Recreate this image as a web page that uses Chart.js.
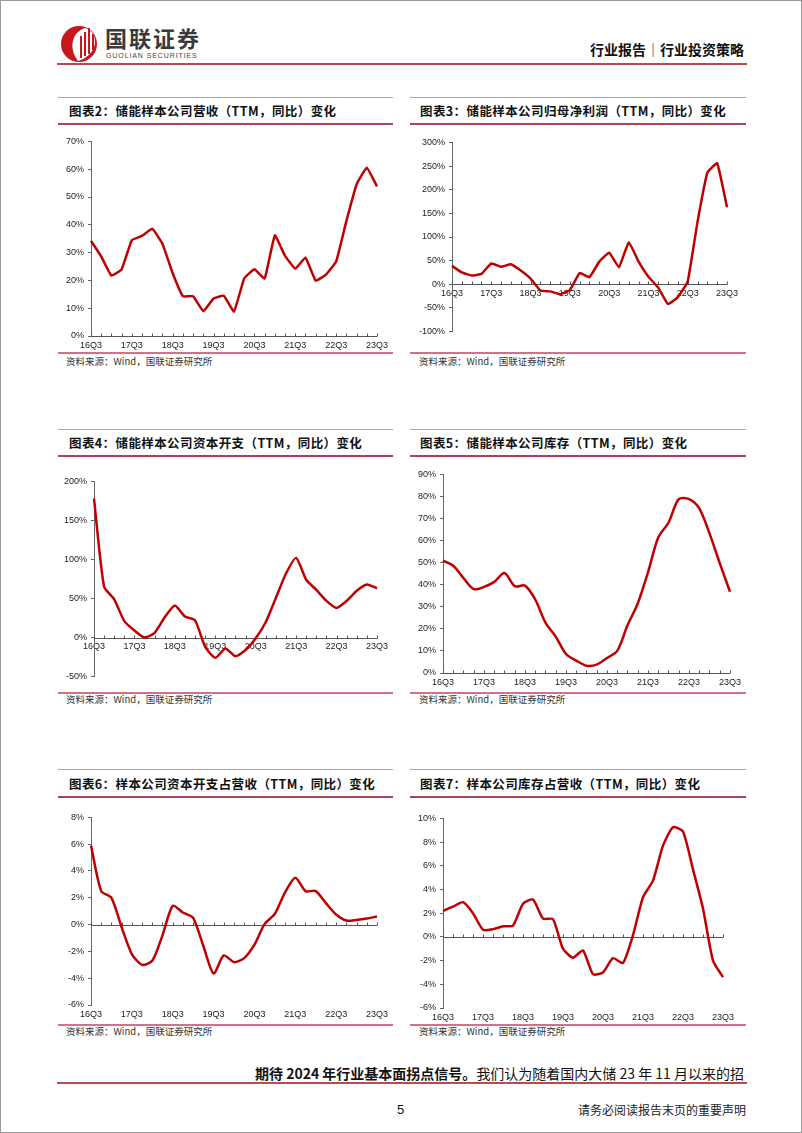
<!DOCTYPE html>
<html>
<head>
<meta charset="utf-8">
<script src="https://cdn.jsdelivr.net/npm/chart.js@4"></script>
<style>
    body { margin: 0; background: #fff; font-family: "Noto Sans CJK SC", sans-serif; }
    #page { position: relative; width: 802px; height: 1133px; box-sizing: border-box; border: 1px solid #9a9a9a; overflow: hidden; background: #fff; }
    .t { position: absolute; white-space: nowrap; color: #111; }
    .ln { position: absolute; }
    canvas { position: absolute; }
    .title { font-size: 12.5px; font-weight: 700; line-height: 18px; height: 18px; letter-spacing: 0.4px; }
    .src { font-size: 9.5px; line-height: 14px; color: #333; }
</style>
</head>
<body>
<div id="page">
    <!-- шапка -->
    <svg class="t" style="left:57px;top:21px" width="42" height="42" viewBox="0 0 42 42">
        <circle cx="21" cy="22" r="18" fill="#c8161d"/>
        <path d="M27 6 C14 10 10 26 20 39 C30 36 37 28 37 20 C37 12 33 8 27 6Z" fill="#fff"/>
        <rect x="22" y="14" width="2" height="22" fill="#c8161d"/>
        <rect x="26" y="10" width="2" height="24" fill="#c8161d"/>
        <rect x="30" y="6" width="2" height="26" fill="#c8161d"/>
        <rect x="34" y="12" width="2" height="16" fill="#c8161d"/>
    </svg>
    <div class="t" style="left:104px;top:23px;font-size:22px;font-weight:700;color:#3a3a3a;letter-spacing:2px;line-height:26px">国联证券</div>
    <div class="t" style="left:105px;top:51px;font-family:'Liberation Sans';font-size:7px;color:#444;letter-spacing:0.9px;line-height:8px">GUOLIAN SECURITIES</div>
    <div class="t" style="right:57px;top:38px;font-size:14px;font-weight:700;line-height:20px">行业报告│行业投资策略</div>
    <div class="ln" style="left:56px;top:62px;width:690px;height:2px;background:#b84a50"></div>

    <!-- ряд 1 -->
    <div class="ln" style="left:57px;top:96px;width:335px;height:1px;background:#c99aa4"></div>
    <div class="ln" style="left:409px;top:96px;width:336px;height:1px;background:#c99aa4"></div>
    <div class="t title" style="left:68px;top:101px">图表2：储能样本公司营收（TTM，同比）变化</div>
    <div class="t title" style="left:419px;top:101px">图表3：储能样本公司归母净利润（TTM，同比）变化</div>
    <div class="ln" style="left:57px;top:122px;width:335px;height:2px;background:#a94457"></div>
    <div class="ln" style="left:409px;top:122px;width:336px;height:2px;background:#a94457"></div>
    <div class="ln" style="left:57px;top:351px;width:335px;height:2px;background:#d4708a"></div>
    <div class="ln" style="left:409px;top:351px;width:336px;height:2px;background:#d4708a"></div>
    <div class="t src" style="left:65px;top:353px">资料来源：Wind，国联证券研究所</div>
    <div class="t src" style="left:418px;top:353px">资料来源：Wind，国联证券研究所</div>

    <!-- ряд 2 -->
    <div class="ln" style="left:57px;top:428px;width:335px;height:1px;background:#c99aa4"></div>
    <div class="ln" style="left:409px;top:428px;width:336px;height:1px;background:#c99aa4"></div>
    <div class="t title" style="left:68px;top:433px">图表4：储能样本公司资本开支（TTM，同比）变化</div>
    <div class="t title" style="left:419px;top:433px">图表5：储能样本公司库存（TTM，同比）变化</div>
    <div class="ln" style="left:57px;top:454px;width:335px;height:2px;background:#a94457"></div>
    <div class="ln" style="left:409px;top:454px;width:336px;height:2px;background:#a94457"></div>
    <div class="ln" style="left:57px;top:691px;width:335px;height:2px;background:#d4708a"></div>
    <div class="ln" style="left:409px;top:691px;width:336px;height:2px;background:#d4708a"></div>
    <div class="t src" style="left:65px;top:691px">资料来源：Wind，国联证券研究所</div>
    <div class="t src" style="left:418px;top:691px">资料来源：Wind，国联证券研究所</div>

    <!-- ряд 3 -->
    <div class="ln" style="left:57px;top:768px;width:335px;height:1px;background:#c99aa4"></div>
    <div class="ln" style="left:409px;top:768px;width:336px;height:1px;background:#c99aa4"></div>
    <div class="t title" style="left:68px;top:774px">图表6：样本公司资本开支占营收（TTM，同比）变化</div>
    <div class="t title" style="left:419px;top:774px">图表7：样本公司库存占营收（TTM，同比）变化</div>
    <div class="ln" style="left:57px;top:795px;width:335px;height:2px;background:#a94457"></div>
    <div class="ln" style="left:409px;top:795px;width:336px;height:2px;background:#a94457"></div>
    <div class="ln" style="left:57px;top:1023px;width:335px;height:2px;background:#d4708a"></div>
    <div class="ln" style="left:409px;top:1023px;width:336px;height:2px;background:#d4708a"></div>
    <div class="t src" style="left:65px;top:1023px">资料来源：Wind，国联证券研究所</div>
    <div class="t src" style="left:418px;top:1023px">资料来源：Wind，国联证券研究所</div>

    <!-- низ -->
    <div class="t" style="right:57px;top:1062px;font-size:14px;line-height:20px"><b>期待 2024 年行业基本面拐点信号。</b>我们认为随着国内大储 23 年 11 月以来的招</div>
    <div class="ln" style="left:56px;top:1081px;width:690px;height:2px;background:#b84a50"></div>
    <div class="t" style="left:396px;top:1101px;font-family:'Liberation Sans';font-size:13px;line-height:16px">5</div>
    <div class="t" style="right:55px;top:1101px;font-size:12px;line-height:16px;color:#222">请务必阅读报告末页的重要声明</div>
</div>

<script>
const quarters = ['16Q3', '16Q4', '17Q1', '17Q2', '17Q3', '17Q4', '18Q1', '18Q2', '18Q3', '18Q4',
    '19Q1', '19Q2', '19Q3', '19Q4', '20Q1', '20Q2', '20Q3', '20Q4', '21Q1', '21Q2', '21Q3',
    '21Q4', '22Q1', '22Q2', '22Q3', '22Q4', '23Q1', '23Q2', '23Q3'];

// 图表2 营收同比 %
const revenueYoy = [34.2, 28.6, 21.7, 24, 34.5, 36, 38.6, 33.1, 22.6, 14.3, 14.3, 8.9, 13.5, 14.5, 8.8,
    20.7, 24, 20.7, 36.2, 28.8, 24.2, 28.2, 19.9, 22.1, 26.8, 41.3, 54.5, 60.5, 53.8];
// 图表3 归母净利润同比 %
const netProfitYoy = [39, 25, 18.5, 22, 44, 37, 42.5, 29, 12, -13, -15, -21, -12, 24, 15,
    48, 67, 36, 89, 48, 16, -7, -42, -27, 6, 132, 236, 256, 163];
// 图表4 资本开支同比 %
const capexYoy = [178, 65, 49, 21, 9, 0, 6, 26, 41, 27, 22, -12, -26, -14, -24,
    -16, -1, 20, 51, 82, 102, 74, 61, 47, 38, 47, 60, 68, 63];
// 图表5 库存同比 %
const inventoryYoy = [50.9, 48.6, 43, 38, 39, 41.3, 45.3, 39.3, 39.6, 33.3, 22.8, 16.5, 8.6, 5.6, 3.3,
    3.8, 6.8, 10, 21.6, 31.5, 45.6, 61.4, 68.1, 78.8, 78.8, 74.6, 63.3, 49.8, 36.8];
// 图表6 资本开支占营收 %
const capexToRevenue = [5.9, 2.5, 2.0, -0.2, -2.2, -3.0, -2.7, -0.8, 1.4, 0.9, 0.5, -1.6, -3.65, -2.3, -2.8,
    -2.5, -1.5, 0.05, 0.8, 2.4, 3.5, 2.5, 2.5, 1.6, 0.75, 0.3, 0.35, 0.45, 0.6];
// 图表7 库存占营收 %
const inventoryToRevenue = [2.2, 2.55, 2.93, 2.0, 0.6, 0.65, 0.9, 0.95, 2.8, 3.15, 1.55, 1.5, -1.0, -1.75, -1.15,
    -3.15, -3.0, -1.8, -2.2, 0.15, 3.35, 4.75, 7.7, 9.25, 8.9, 5.7, 2.4, -2.0, -3.4];

const tickFont = { family: 'Liberation Sans', size: 9 };

// нульова вісь з рисками догори
const zeroAxis = {
    id: 'zeroAxis',
    beforeDatasetsDraw(chart) {
        const { ctx, chartArea, scales } = chart;
        const y0 = Math.round(scales.y.getPixelForValue(0)) + 0.5;
        ctx.save();
        ctx.strokeStyle = '#555';
        ctx.lineWidth = 1;
        ctx.beginPath();
        ctx.moveTo(chartArea.left, y0);
        ctx.lineTo(chartArea.right, y0);
        for (let i = 0; i < scales.x.ticks.length; i++) {
            const px = Math.round(scales.x.getPixelForTick(i)) + 0.5;
            ctx.moveTo(px, y0);
            ctx.lineTo(px, y0 - 3);
        }
        ctx.stroke();
        ctx.restore();
    }
};

function makeChart(values, area, yMin, yMax, step, axisAtZero, tension) {
    const canvas = document.createElement('canvas');
    const w = area.right - area.left + 40 + 14;
    const h = area.bottom - area.top + 8 + (axisAtZero ? 6 : 20);
    canvas.width = w;
    canvas.height = h;
    canvas.style.left = (area.left - 40) + 'px';
    canvas.style.top = (area.top - 8) + 'px';
    canvas.style.width = w + 'px';
    canvas.style.height = h + 'px';
    document.getElementById('page').appendChild(canvas);

    new Chart(canvas.getContext('2d'), {
        type: 'line',
        data: {
            labels: quarters,
            datasets: [{
                data: values,
                borderColor: '#c00000',
                borderWidth: 2.5,
                pointRadius: 0,
                tension: tension,
                fill: false,
                clip: false,
            }],
        },
        options: {
            responsive: false,
            animation: false,
            devicePixelRatio: 1,
            layout: { padding: { top: 8, right: 14, left: 0, bottom: axisAtZero ? 6 : 0 } },
            plugins: { legend: { display: false }, tooltip: { enabled: false } },
            scales: {
                x: {
                    position: axisAtZero ? { y: 0 } : 'bottom',
                    offset: false,
                    grid: { display: false, drawTicks: false },
                    border: { display: false },
                    ticks: {
                        autoSkip: false,
                        maxRotation: 0,
                        padding: 4,
                        font: tickFont,
                        color: '#222',
                        callback: (v, i) => quarters[i].endsWith('Q3') ? quarters[i] : '',
                    },
                    afterFit: s => { s.height = 20; },
                },
                y: {
                    min: yMin,
                    max: yMax,
                    ticks: { stepSize: step, padding: 4, font: tickFont, color: '#222', callback: v => v + '%' },
                    grid: { drawOnChartArea: false, tickLength: 3, color: '#666' },
                    border: { color: '#666' },
                    afterFit: s => { s.width = 40; },
                },
            },
        },
        plugins: [zeroAxis],
    });
}

makeChart(revenueYoy, { left: 90, right: 377, top: 139, bottom: 335 }, 0, 70, 10, false, 0.1);
makeChart(netProfitYoy, { left: 451, right: 727, top: 140, bottom: 334 }, -100, 300, 50, true, 0.1);
makeChart(capexYoy, { left: 93, right: 377, top: 479, bottom: 679 }, -50, 200, 50, true, 0.2);
makeChart(inventoryYoy, { left: 442, right: 730, top: 472, bottom: 672 }, 0, 90, 10, false, 0.3);
makeChart(capexToRevenue, { left: 90, right: 377, top: 815, bottom: 1004 }, -6, 8, 2, false, 0.25);
makeChart(inventoryToRevenue, { left: 442, right: 723, top: 816, bottom: 1007 }, -6, 10, 2, false, 0.2);
</script>
</body>
</html>
